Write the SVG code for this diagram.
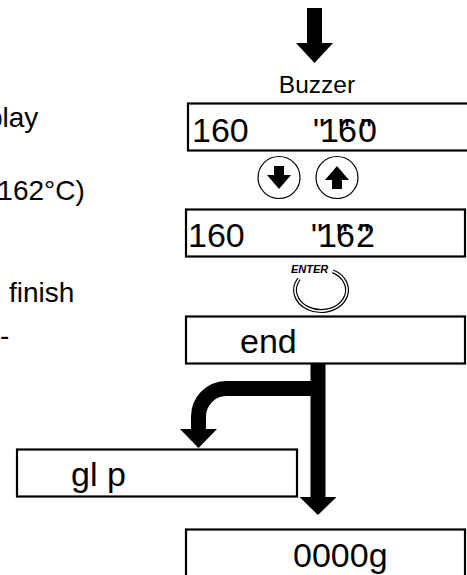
<svg xmlns="http://www.w3.org/2000/svg" width="467" height="575" viewBox="0 0 467 575">
<style>
text{font-family:"Liberation Sans",Arial,sans-serif;fill:#000}
.box{fill:#fff;stroke:#000;stroke-width:2.2}
.disp{font-size:34px}
.side{font-size:28px}
.btn{fill:#fff;stroke:#000;stroke-width:1.2}
.thick{fill:none;stroke:#000;stroke-width:15}
.head{fill:#000}
</style>
<rect width="467" height="575" fill="#fff"/>
<g id="side-text">
<text class="side" x="-13" y="127">play</text>
<text class="side" x="-12" y="200">(162°C)</text>
<text class="side" x="9" y="302" font-size="30">finish</text>
<text class="side" x="0" y="345">-</text>
</g>
<g id="connectors">
<rect x="307" y="8" width="15" height="36" fill="#000"/>
<polygon class="head" points="296,43 333,43 314.5,63"/>
<line class="thick" x1="318" y1="362" x2="318" y2="498"/>
<polygon class="head" points="299.5,497 336.5,497 318,515"/>
<path class="thick" d="M 318 388.5 H 226 A 28 28 0 0 0 198.5 416.5 V 430"/>
<polygon class="head" points="180,429 217,429 198.5,448"/>
</g>
<g id="buzzer"><text x="317" y="93" font-size="24.5" text-anchor="middle">Buzzer</text></g>
<g id="display-160">
<rect class="box" x="188" y="103.5" width="290" height="47"/>
<text class="disp" x="192" y="142">160</text>
<text class="disp" y="142"><tspan x="313">"</tspan><tspan x="320">1</tspan><tspan x="338">"</tspan><tspan x="338">6</tspan><tspan x="360">"</tspan><tspan x="358">0</tspan></text>
</g>
<g id="btn-down">
<circle class="btn" cx="279" cy="177.5" r="21"/>
<polygon class="head" points="274,166 284,166 284,175 291,175 279,189 267,175 274,175"/>
</g>
<g id="btn-up">
<circle class="btn" cx="337" cy="177.5" r="21"/>
<polygon class="head" points="332,189 342,189 342,180 349,180 337,166 325,180 332,180"/>
</g>
<g id="display-162">
<rect class="box" x="186" y="209.5" width="279" height="47"/>
<text class="disp" x="188" y="247">160</text>
<text class="disp" y="247"><tspan x="311">"</tspan><tspan x="318">1</tspan><tspan x="336">"</tspan><tspan x="336">6</tspan><tspan x="358">"</tspan><tspan x="356">2</tspan></text>
</g>
<g id="enter">
<text x="291" y="273" font-size="11" font-weight="bold" font-style="italic">ENTER</text>
<path d="M 332.8 271.3 A 26 21 0 1 1 299 278.9" fill="none" stroke="#000" stroke-width="4"/>
<path d="M 332.8 271.3 A 26 21 0 1 1 299 278.9" fill="none" stroke="#fff" stroke-width="1.6"/>
</g>
<g id="display-end">
<rect class="box" x="186" y="316.5" width="279" height="47"/>
<text class="disp" x="240" y="353">end</text>
</g>
<g id="display-glp">
<rect class="box" x="17" y="449.5" width="280" height="47"/>
<text class="disp" x="71" y="486">gl p</text>
</g>
<g id="display-0000g">
<rect class="box" x="186" y="529.5" width="279" height="60"/>
<text class="disp" x="293" y="567">0000g</text>
</g>
</svg>
